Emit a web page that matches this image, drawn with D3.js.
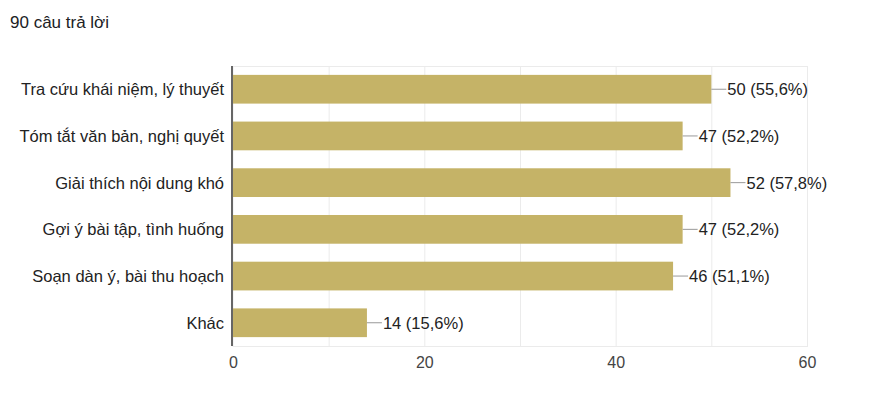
<!DOCTYPE html>
<html>
<head>
  <meta charset="utf-8">
  <script src="https://cdn.jsdelivr.net/npm/d3@7/dist/d3.min.js"></script>
  <style>
    body { margin: 0; background: #fff; font-family: Arial, "Liberation Sans", sans-serif; }
  </style>
</head>
<body>
  <main id="container"></main>
  <script>
    const totalLabel = "90 câu trả lời";
    const categories = [
      "Tra cứu khái niệm, lý thuyết",
      "Tóm tắt văn bản, nghị quyết",
      "Giải thích nội dung khó",
      "Gợi ý bài tập, tình huống",
      "Soạn dàn ý, bài thu hoạch",
      "Khác"
    ];
    const counts = [50, 47, 52, 47, 46, 14];
    const percents = ["55,6%", "52,2%", "57,8%", "52,2%", "51,1%", "15,6%"];
    const xTicks = [0, 20, 40, 60];
    const gridTicks = [10, 20, 30, 40, 50, 60];

    const vizWidth = 877, vizHeight = 414;
    const plotLeft = 233, plotRight = 807, plotTop = 66, plotBottom = 346;

    const svg = d3.select("#container").append("svg")
      .attr("width", vizWidth).attr("height", vizHeight);

    svg.append("text")
      .attr("x", 10).attr("y", 28)
      .attr("fill", "#202124")
      .style("font-size", "17px")
      .text(totalLabel);

    const x = d3.scaleLinear().domain([0, 60]).range([plotLeft, plotRight]);
    const y = d3.scaleBand().domain(categories).range([plotTop, plotBottom]).paddingInner(0.385).paddingOuter(0.19);

    // grid
    svg.append("rect")
      .attr("x", plotLeft).attr("y", plotTop + 0.5)
      .attr("width", plotRight - plotLeft + 0.5).attr("height", plotBottom - plotTop)
      .attr("fill", "none").attr("stroke", "#ebebeb");

    svg.selectAll("line.grid")
      .data(gridTicks)
      .join("line")
      .attr("class", "grid")
      .attr("x1", d => x(d) + 0.5).attr("x2", d => x(d) + 0.5)
      .attr("y1", plotTop).attr("y2", plotBottom)
      .attr("stroke", "#ebebeb");

    // bars
    svg.selectAll("rect.bar")
      .data(counts)
      .join("rect")
      .attr("class", "bar")
      .attr("x", x(0))
      .attr("y", (d, i) => y(categories[i]))
      .attr("width", d => x(d) - x(0))
      .attr("height", y.bandwidth())
      .attr("fill", "#c5b367");

    // connector lines
    svg.selectAll("line.conn")
      .data(counts)
      .join("line")
      .attr("class", "conn")
      .attr("x1", d => x(d)).attr("x2", d => x(d) + 15)
      .attr("y1", (d, i) => y(categories[i]) + y.bandwidth() / 2)
      .attr("y2", (d, i) => y(categories[i]) + y.bandwidth() / 2)
      .attr("stroke", "#999").attr("stroke-width", 1);

    // value labels
    svg.selectAll("text.val")
      .data(counts)
      .join("text")
      .attr("class", "val")
      .attr("x", d => x(d) + 16)
      .attr("y", (d, i) => y(categories[i]) + y.bandwidth() / 2)
      .attr("dy", "0.36em")
      .attr("fill", "#222")
      .style("font-size", "16.5px")
      .text((d, i) => `${d} (${percents[i]})`);

    // category labels
    svg.selectAll("text.cat")
      .data(categories)
      .join("text")
      .attr("class", "cat")
      .attr("x", plotLeft - 9)
      .attr("y", d => y(d) + y.bandwidth() / 2)
      .attr("dy", "0.36em")
      .attr("text-anchor", "end")
      .attr("fill", "#222")
      .style("font-size", "16.5px")
      .text(d => d);

    // x axis
    const axisX = svg.append("g")
      .attr("transform", `translate(0,${plotBottom})`)
      .call(d3.axisBottom(x).tickValues(xTicks).tickSize(0).tickPadding(11));
    axisX.select(".domain").remove();
    axisX.selectAll("text")
      .attr("fill", "#444")
      .style("font-size", "16px")
      .style("font-family", "Arial, 'Liberation Sans', sans-serif");

    // left axis line
    svg.append("line")
      .attr("x1", plotLeft - 1).attr("x2", plotLeft - 1)
      .attr("y1", plotTop).attr("y2", plotBottom)
      .attr("stroke", "#666").attr("stroke-width", 2);
  </script>
</body>
</html>
